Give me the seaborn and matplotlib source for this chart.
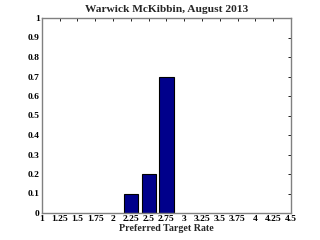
import matplotlib
matplotlib.use("Agg")
import matplotlib.pyplot as plt
import seaborn as sns
import pandas as pd

rates = [2.25, 2.5, 2.75]
shares = [0.1, 0.2, 0.7]
xticks = [1, 1.25, 1.5, 1.75, 2, 2.25, 2.5, 2.75, 3, 3.25, 3.5, 3.75, 4, 4.25, 4.5]
xticklabels = ["1", "1.25", "1.5", "1.75", "2", "2.25", "2.5", "2.75", "3", "3.25", "3.5", "3.75", "4", "4.25", "4.5"]
yticks = [0, 0.1, 0.2, 0.3, 0.4, 0.5, 0.6, 0.7, 0.8, 0.9, 1]
yticklabels = ["0", "0.1", "0.2", "0.3", "0.4", "0.5", "0.6", "0.7", "0.8", "0.9", "1"]

sns.set_style("white")
plt.rcParams['font.family'] = ['Liberation Serif', 'DejaVu Serif']
plt.rcParams['font.weight'] = 'bold'

df = pd.DataFrame({"rate": rates, "share": shares})

fig = plt.figure(figsize=(3.2, 2.4), dpi=100)
ax = fig.add_axes([0.131, 0.1125, 0.778, 0.8125])
sns.barplot(data=df, x="rate", y="share", native_scale=True, width=0.8,
            color="#00008B", saturation=1, edgecolor="black", linewidth=0.8, ax=ax)
ax.set_xlim(1, 4.5)
ax.set_ylim(0, 1)
ax.set_xticks(xticks)
ax.set_xticklabels(xticklabels, fontsize=6.8, fontweight='bold')
ax.set_yticks(yticks)
ax.set_yticklabels(yticklabels, fontsize=6.8, fontweight='bold')
ax.tick_params(direction='in', length=2.5, width=0.6, top=True, right=True, pad=1.5, colors='black')
for s in ax.spines.values():
    s.set_visible(True)
    s.set_color('#808080')
    s.set_linewidth(1.0)
ax.set_xlabel("Preferred Target Rate", fontsize=7.2, fontweight='bold', labelpad=1)
ax.set_ylabel("")
ax.set_title("Warwick McKibbin, August 2013", fontsize=8.2, fontweight='bold', pad=4)
fig.savefig("out.png", dpi=100)
